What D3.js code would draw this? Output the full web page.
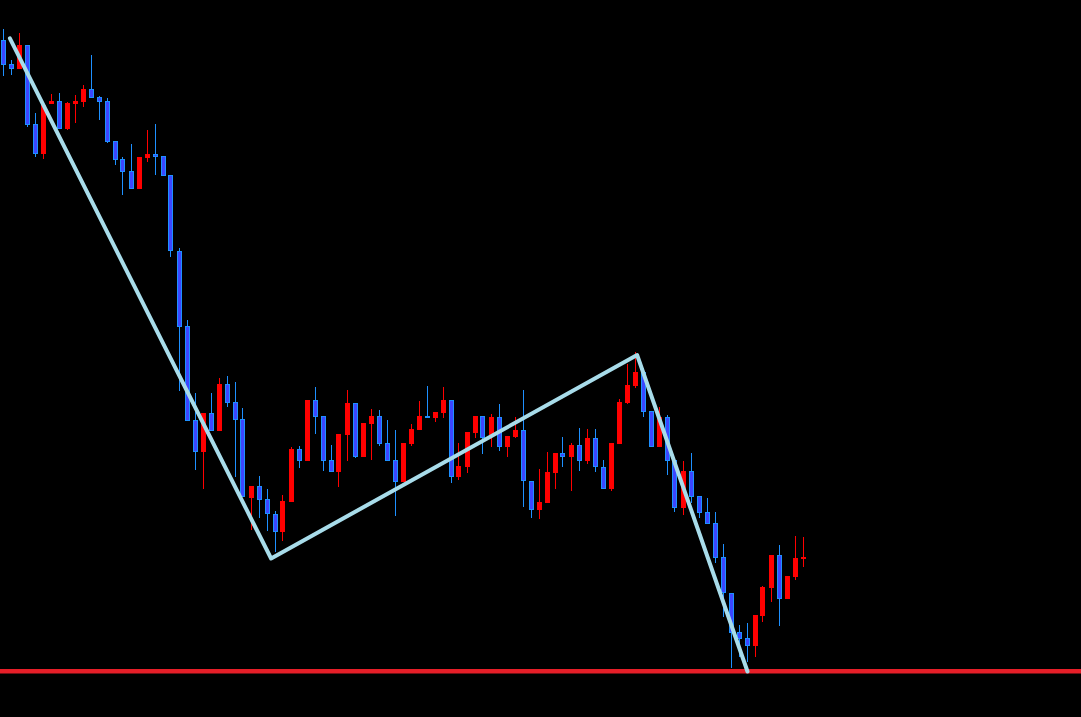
<!DOCTYPE html>
<html>
<head>
<meta charset="utf-8">
<script src="https://cdn.jsdelivr.net/npm/d3@7"></script>
<style>
  html, body { margin: 0; padding: 0; background: #000; overflow: hidden; }
  svg { display: block; }
</style>
</head>
<body>
<svg class="chart" width="1081" height="717"></svg>
<script>
// Candle data, one entry per bar
var opens = [
  119.600, 119.360, 119.313, 119.550, 118.760, 118.460, 118.960, 118.990, 118.710, 118.960,
  118.980, 119.110, 119.030, 118.990, 118.590, 118.410, 118.290, 118.113, 118.423, 118.460,
  118.440, 118.250, 117.487, 116.737, 115.797, 115.483, 115.867, 115.693, 116.160, 115.977,
  115.807, 115.023, 115.140, 115.007, 114.857, 114.683, 114.977, 115.510, 115.393, 116.000,
  115.840, 115.400, 115.283, 115.653, 115.970, 115.433, 115.760, 115.840, 115.570, 115.400,
  115.183, 115.563, 115.703, 115.840, 115.823, 115.873, 116.000, 115.233, 115.333, 115.673,
  115.840, 115.650, 115.830, 115.533, 115.630, 115.700, 115.193, 114.903, 114.973, 115.273,
  115.470, 115.433, 115.547, 115.393, 115.617, 115.330, 115.113, 115.563, 115.970, 116.143,
  116.280, 115.890, 115.533, 115.830, 115.400, 114.923, 115.290, 115.040, 114.877, 114.767,
  114.427, 114.067, 113.677, 113.617, 113.543, 113.843, 114.123, 114.450, 114.013, 114.233,
  114.413
];
var highs = [
  119.710, 119.400, 119.670, 119.550, 118.870, 118.970, 119.060, 119.070, 118.977, 119.050,
  119.150, 119.450, 119.040, 119.017, 118.590, 118.430, 118.560, 118.430, 118.700, 118.760,
  118.440, 118.250, 117.520, 116.800, 116.070, 115.870, 116.067, 116.217, 116.240, 116.180,
  115.920, 115.140, 115.240, 115.110, 114.890, 115.050, 115.530, 115.540, 116.000, 116.130,
  115.840, 115.550, 115.660, 116.103, 115.970, 115.770, 115.910, 115.900, 115.800, 115.700,
  115.570, 115.760, 115.990, 116.140, 115.880, 116.130, 116.000, 115.570, 115.680, 115.840,
  115.840, 115.860, 115.960, 115.640, 115.830, 116.100, 115.193, 115.310, 115.480, 115.470,
  115.630, 115.567, 115.717, 115.707, 115.707, 115.400, 115.570, 116.007, 116.360, 116.483,
  116.320, 115.890, 115.927, 115.850, 115.400, 115.390, 115.467, 115.040, 115.017, 114.877,
  114.560, 114.067, 113.750, 113.767, 113.850, 114.140, 114.450, 114.550, 114.240, 114.640,
  114.630
];
var lows = [
  119.243, 119.250, 119.313, 118.733, 118.433, 118.413, 118.960, 118.713, 118.700, 118.773,
  118.933, 119.023, 118.800, 118.573, 118.353, 118.050, 118.113, 118.113, 118.383, 118.250,
  118.243, 117.433, 116.093, 115.793, 115.300, 115.110, 115.693, 115.693, 115.933, 115.233,
  115.033, 114.700, 114.823, 114.690, 114.483, 114.590, 114.977, 115.323, 115.393, 115.663,
  115.293, 115.283, 115.133, 115.393, 115.423, 115.433, 115.403, 115.543, 115.393, 114.843,
  115.183, 115.543, 115.703, 115.823, 115.783, 115.823, 115.173, 115.203, 115.273, 115.623,
  115.463, 115.533, 115.493, 115.433, 115.620, 114.933, 114.823, 114.813, 114.973, 115.113,
  115.333, 115.093, 115.293, 115.360, 115.283, 115.113, 115.093, 115.563, 115.960, 116.123,
  115.833, 115.533, 115.533, 115.250, 114.883, 114.850, 114.967, 114.823, 114.763, 114.373,
  113.827, 113.323, 113.433, 113.383, 113.427, 113.783, 113.983, 113.743, 114.013, 114.200,
  114.333
];
var closes = [
  119.353, 119.313, 119.550, 118.753, 118.463, 118.950, 118.990, 118.713, 118.970, 118.990,
  119.110, 119.023, 118.983, 118.583, 118.403, 118.283, 118.113, 118.430, 118.460, 118.433,
  118.243, 117.487, 116.733, 115.793, 115.483, 115.867, 115.693, 116.160, 115.973, 115.803,
  115.033, 115.140, 115.003, 114.857, 114.683, 114.990, 115.510, 115.393, 116.000, 115.833,
  115.393, 115.283, 115.660, 115.970, 115.433, 115.770, 115.840, 115.563, 115.393, 115.183,
  115.570, 115.710, 115.840, 115.823, 115.880, 116.000, 115.233, 115.340, 115.680, 115.840,
  115.620, 115.830, 115.533, 115.640, 115.700, 115.193, 114.903, 114.980, 115.280, 115.470,
  115.433, 115.550, 115.393, 115.620, 115.327, 115.113, 115.570, 115.980, 116.150, 116.280,
  115.883, 115.533, 115.833, 115.393, 114.923, 115.290, 115.033, 114.873, 114.763, 114.423,
  114.067, 113.673, 113.613, 113.543, 113.850, 114.130, 114.450, 114.013, 114.240, 114.420,
  114.430
];

// Zigzag turning points: bar position and price
var zigzagBars = [0.8, 33.45, 79.2, 93.0];
var zigzagPrices = [119.617, 114.415, 116.450, 113.285];

// Horizontal support level
var supportLevel = 113.287;

var svg = d3.select(".chart");
var width = 1081;
var height = 717;

svg.append("rect")
  .attr("width", width)
  .attr("height", height)
  .attr("fill", "#000");

var x = d3.scaleLinear()
  .domain([0, 100])
  .range([3.5, 803.5]);

var y = d3.scaleLinear()
  .domain([112.83, 120])
  .range([height, 0]);

var candles = opens.map(function(o, i) {
  return { i: i, open: o, high: highs[i], low: lows[i], close: closes[i] };
});

var bodyWidth = 5;

var candle = svg.append("g").attr("class", "candles")
  .selectAll("g")
  .data(candles)
  .enter().append("g")
  .attr("class", function(d) { return d.close >= d.open ? "bull" : "bear"; });

// wicks
candle.append("line")
  .attr("x1", function(d) { return Math.round(x(d.i)) - 0.5; })
  .attr("x2", function(d) { return Math.round(x(d.i)) - 0.5; })
  .attr("y1", function(d) { return y(d.high); })
  .attr("y2", function(d) { return y(d.low); })
  .attr("stroke", function(d) { return d.close >= d.open ? "#ff0000" : "#1e90ff"; })
  .attr("stroke-width", 1)
  .attr("shape-rendering", "crispEdges");

// bodies
candle.append("rect")
  .attr("x", function(d) {
    var left = Math.round(x(d.i)) - 1 - Math.floor(bodyWidth / 2);
    return d.close >= d.open ? left : left + 0.5;
  })
  .attr("y", function(d) {
    var top = y(Math.max(d.open, d.close));
    return d.close >= d.open ? top : top + 0.5;
  })
  .attr("width", function(d) { return d.close >= d.open ? bodyWidth : bodyWidth - 1; })
  .attr("height", function(d) {
    var h = Math.abs(y(d.open) - y(d.close));
    return d.close >= d.open ? Math.max(h, 1) : Math.max(h - 1, 1);
  })
  .attr("fill", function(d) { return d.close >= d.open ? "#ff0000" : "#3c46ff"; })
  .attr("stroke", function(d) { return d.close >= d.open ? "none" : "#1e90ff"; })
  .attr("stroke-width", 1)
  .attr("shape-rendering", "crispEdges");

// support line
svg.append("line")
  .attr("x1", 0)
  .attr("x2", width)
  .attr("y1", y(supportLevel))
  .attr("y2", y(supportLevel))
  .attr("stroke", "#e61e28")
  .attr("stroke-width", 4.5);

// zigzag
var zigzag = d3.line()
  .x(function(d) { return x(d[0]); })
  .y(function(d) { return y(d[1]); });

svg.append("path")
  .attr("class", "zigzag")
  .attr("d", zigzag(d3.zip(zigzagBars, zigzagPrices)))
  .attr("fill", "none")
  .attr("stroke", "#a8dcea")
  .attr("stroke-width", 4)
  .attr("stroke-linejoin", "round")
  .attr("stroke-linecap", "round");
</script>
</body>
</html>
